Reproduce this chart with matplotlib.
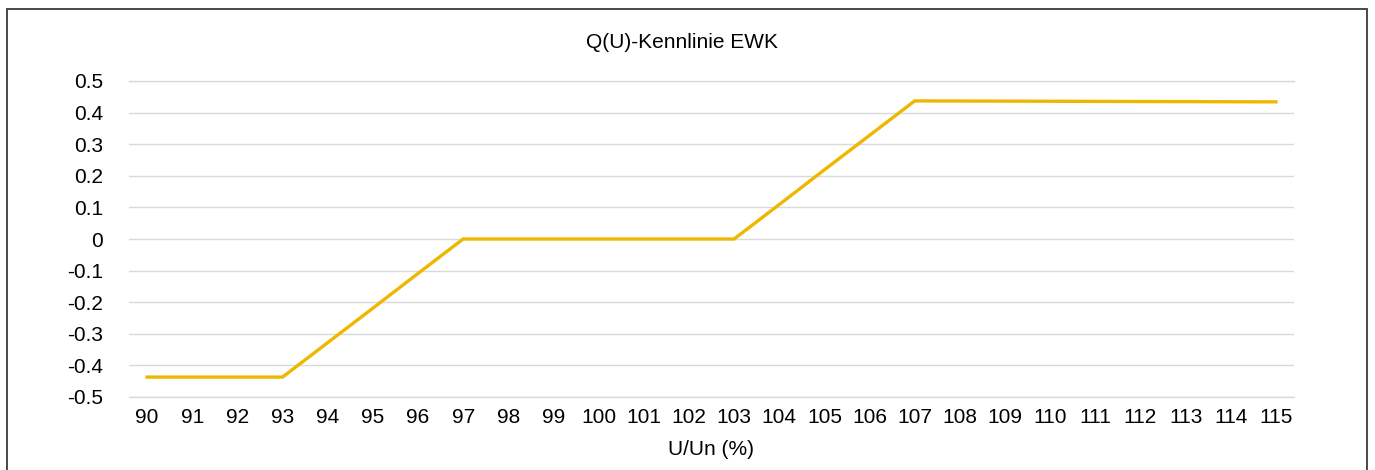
import matplotlib.pyplot as plt
from matplotlib.patches import Rectangle

plt.rcParams['font.family'] = ['Liberation Sans', 'DejaVu Sans']

# Q(U) characteristic, values
u_pct = [90, 91, 92, 93, 94, 95, 96, 97, 98, 99, 100, 101, 102,
         103, 104, 105, 106, 107, 108, 109, 110, 111, 112, 113, 114, 115]
q_val = [-0.437, -0.437, -0.437, -0.437, -0.328, -0.219, -0.109, 0.0,
         0.0, 0.0, 0.0, 0.0, 0.0, 0.0, 0.109, 0.219, 0.328, 0.437,
         0.4366, 0.4363, 0.4359, 0.4355, 0.4351, 0.4348, 0.4344, 0.434]
y_ticks = [0.5, 0.4, 0.3, 0.2, 0.1, 0, -0.1, -0.2, -0.3, -0.4, -0.5]

fs = 15
fig = plt.figure(figsize=(13.75, 4.7), dpi=100)
ax = fig.add_axes([129/1375, 1-397/470, 1165/1375, 316/470])

idx = list(range(len(u_pct)))
ax.plot(idx, q_val, color='#EEB800', lw=2.4, solid_joinstyle='miter', zorder=3)

ax.set_xlim(-0.4, len(u_pct) - 0.6)
ax.set_ylim(-0.5, 0.5)
ax.set_xticks(idx)
ax.set_xticklabels([str(u) for u in u_pct])
ax.set_yticks(y_ticks)
ax.set_yticklabels([("%g" % t) for t in y_ticks])
ax.tick_params(length=0, labelsize=fs, colors='#000000')
ax.tick_params(axis='y', pad=18.5)
ax.tick_params(axis='x', pad=8)
ax.grid(axis='y', color='#D9D9D9', lw=1)
ax.axhline(-0.5, color='#D9D9D9', lw=1, clip_on=False, zorder=1)
ax.axhline(0.5, color='#D9D9D9', lw=1, clip_on=False, zorder=1)
ax.set_axisbelow(True)
for s in ax.spines.values():
    s.set_visible(False)

ax.set_xlabel("U/Un (%)", fontsize=fs, labelpad=9)
fig.text(682/1375, 1-42/470, "Q(U)-Kennlinie EWK", fontsize=fs,
         ha='center', va='center')

# chart border, runs off the bottom like the original screenshot
fig.patches.append(Rectangle((6.5/1375, -0.05), 1360.5/1375, 1.05-9/470,
                             transform=fig.transFigure, fill=False,
                             edgecolor='#3A3A3A', lw=1.3))

plt.savefig("out.png", dpi=100)
